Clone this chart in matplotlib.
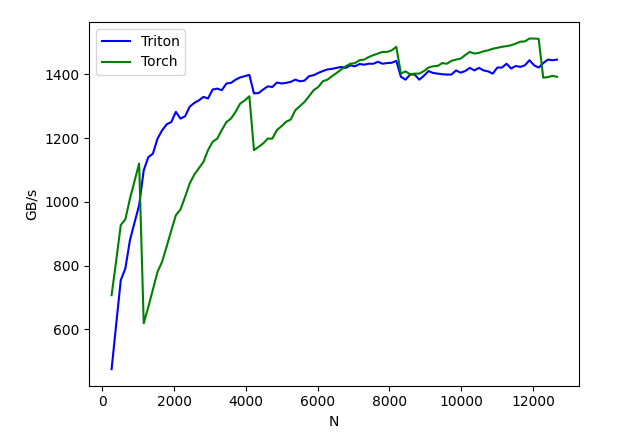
import numpy as np
import matplotlib.pyplot as plt

N = [128 * i for i in range(2, 100)]

triton = [
    475, 615, 754, 791, 880, 935, 989, 1099, 1140, 1151,
    1198, 1224, 1243, 1250, 1282, 1261, 1268, 1298, 1310, 1318,
    1329, 1324, 1352, 1355, 1350, 1371, 1373, 1383, 1390, 1394,
    1398, 1340, 1341, 1352, 1362, 1360, 1374, 1371, 1373, 1376,
    1383, 1378, 1380, 1394, 1397, 1404, 1410, 1415, 1417, 1420,
    1423, 1420, 1428, 1425, 1432, 1430, 1433, 1433, 1439, 1433,
    1435, 1436, 1442, 1392, 1383, 1399, 1399, 1383, 1395, 1410,
    1404, 1402, 1400, 1399, 1399, 1412, 1405, 1410, 1420, 1412,
    1420, 1412, 1409, 1402, 1421, 1421, 1433, 1418, 1426, 1423,
    1428, 1444, 1428, 1421, 1435, 1446, 1444, 1446,
]

torch = [
    707, 815, 927, 945, 1010, 1065, 1120, 619, 670, 725,
    780, 812, 860, 910, 958, 976, 1015, 1057, 1085, 1105,
    1125, 1162, 1188, 1198, 1225, 1250, 1261, 1282, 1308, 1318,
    1331, 1162, 1172, 1183, 1198, 1198, 1225, 1237, 1251, 1258,
    1287, 1300, 1313, 1331, 1350, 1360, 1378, 1383, 1394, 1404,
    1415, 1425, 1433, 1435, 1444, 1446, 1454, 1460, 1465, 1470,
    1470, 1475, 1486, 1402, 1409, 1400, 1402, 1402, 1410, 1421,
    1425, 1426, 1435, 1433, 1442, 1446, 1449, 1460, 1470, 1465,
    1467, 1472, 1475, 1480, 1483, 1486, 1488, 1491, 1496, 1502,
    1503, 1512, 1512, 1511, 1389, 1391, 1395, 1392,
]

fig = plt.figure(figsize=(6.25, 4.41), dpi=100)
ax = fig.add_axes([0.1429, 0.1254, 0.784, 0.8247])

ax.plot(N, triton, color='blue', label='Triton')
ax.plot(N, torch, color='green', label='Torch')

ax.set_xlabel('N')
ax.set_ylabel('GB/s')
ax.legend(loc='upper left')

fig.savefig('out.png', dpi=100)
